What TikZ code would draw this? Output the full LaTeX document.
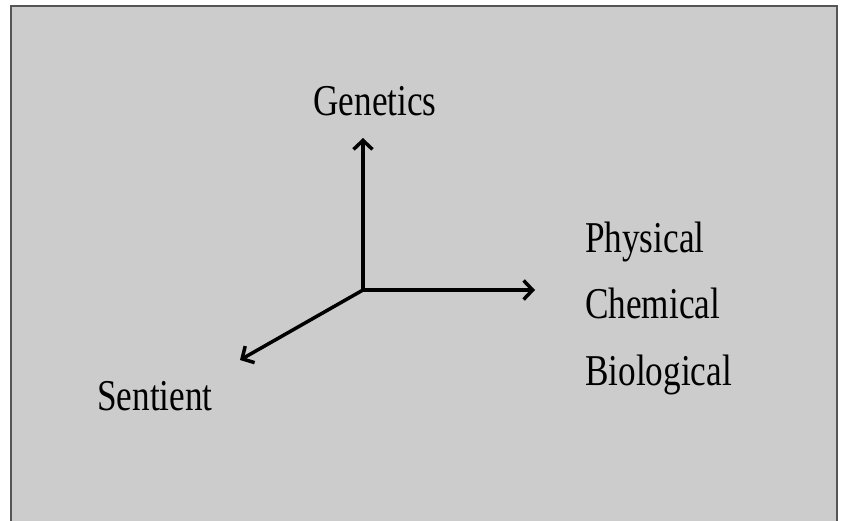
\documentclass[tikz,border=0pt]{standalone}
\usepackage{fontspec}
\setmainfont[FakeStretch=0.8]{Liberation Serif}
\usetikzlibrary{arrows.meta,positioning}
\definecolor{paper}{RGB}{204,204,204}
\definecolor{frameedge}{RGB}{85,85,85}

\begin{document}
\begin{tikzpicture}[x=1pt,y=-1pt,
    axis/.style={line width=3.5pt, -{Straight Barb[length=9pt,width=19pt]}},
    lbl/.style={font=\fontsize{44}{50}\selectfont, inner sep=0pt}]
  \useasboundingbox (0,0) rectangle (843,520);
  % grey card with its frame
  \fill[paper] (11,6) rectangle (837,530);
  \draw[frameedge, line width=2pt] (11,530) -- (11,6) -- (837,6) -- (837,530);

  % the three axes
  \coordinate (o) at (363,290);
  \coordinate (up) at (363,138);
  \coordinate (right) at (535,290);
  \coordinate (down) at (240,360);
  \draw[axis] (o) -- (up);
  \draw[axis] (o) -- (right);
  \draw[axis] (o) -- (down);

  % labels
  \node[lbl, anchor=base] (genetics) at (375,115) {Genetics};
  \node[lbl, anchor=base west] (physical) at (585,252) {Physical};
  \node[lbl, anchor=base west] (chemical) at (585,318) {Chemical};
  \node[lbl, anchor=base west] (biological) at (585,385) {Biological};
  \node[lbl, anchor=base west] (sentient) at (97,410) {Sentient};
\end{tikzpicture}
\end{document}
